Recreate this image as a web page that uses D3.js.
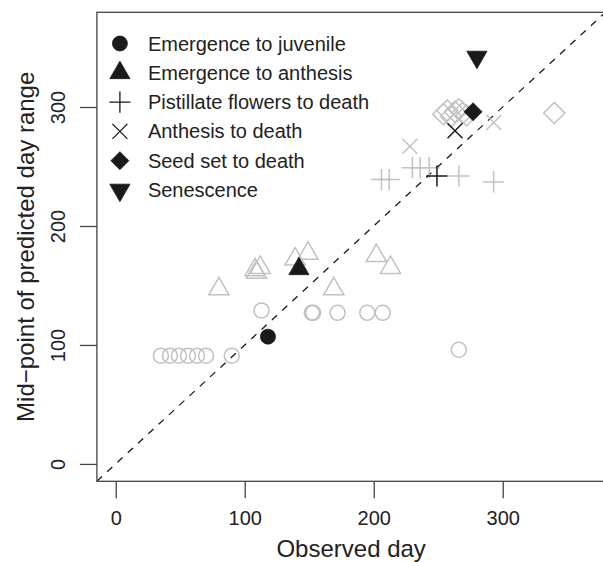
<!DOCTYPE html>
<meta charset="utf-8">
<script src="https://d3js.org/d3.v7.min.js"></script>
<style>
  body { margin: 0; background: #fff; }
  svg text { font-family: "Liberation Sans", Arial, sans-serif; fill: #222; }
</style>
<div id="my_dataviz"></div>
<script>

// Observed day vs mid-point of predicted day range
// grey = individual records, black = the one highlighted record per stage
var juvenileGrey = [[35,91],[42,91],[49,91],[56,91],[63,91],[70,91],[90,91],[113,129],
                    [152,127],[153,127],[172,127],[195,127],[207,127],[266,96]];
var juvenileBlack = [[118,107]];

var anthesisGrey = [[80,147],[108,163],[112,165],[109,161],[139,172],[149,177],[169,147],
                    [202,175],[213,165]];
var anthesisBlack = [[142,164]];

var pistillateGrey = [[206,239],[212,239],[230,249],[236,249],[243,249],[266,242],[293,237]];
var pistillateBlack = [[249,242]];

var anthDeathGrey = [[228,267],[293,287]];
var anthDeathBlack = [[263,280]];

var seedSetGrey = [[254,294],[257,297],[260,292],[263,296],[266,298],[269,295],[272,293],[340,295]];
var seedSetBlack = [[277,296]];

var senescenceBlack = [[280,342]];

var tickValues = [0, 100, 200, 300];
var legendLabels = ["Emergence to juvenile", "Emergence to anthesis", "Pistillate flowers to death",
                    "Anthesis to death", "Seed set to death", "Senescence"];

var margin = {top: 12.3, left: 96.9},
    width = 508.5,
    height = 469;

var svg = d3.select("#my_dataviz")
  .append("svg")
    .attr("width", 603)
    .attr("height", 562)
  .append("g")
    .attr("transform", "translate(" + margin.left + "," + margin.top + ")");

// both axes 0..365 with R's 4% padding
var lo = -14.6, hi = 379.6;
var x = d3.scaleLinear().domain([lo, hi]).range([0, width]);
var y = d3.scaleLinear().domain([lo, hi]).range([height, 0]);

var grey = "#c2c2c2", black = "#1a1a1a";
var R = 7.5;

// R-like plotting symbols as path strings, centred on 0,0
function sym(type) {
  var p = d3.path();
  if (type === "circle") {
    p.moveTo(R, 0); p.arc(0, 0, R, 0, 2 * Math.PI);
  } else if (type === "triUp" || type === "triDown") {
    var r = 1.5551 * R, xc = 1.3468 * R, yc = 0.7776 * R, s = type === "triUp" ? 1 : -1;
    p.moveTo(0, -s * r); p.lineTo(xc, s * yc); p.lineTo(-xc, s * yc); p.closePath();
  } else if (type === "plus") {
    var a = Math.SQRT2 * R;
    p.moveTo(-a, 0); p.lineTo(a, 0); p.moveTo(0, -a); p.lineTo(0, a);
  } else if (type === "cross") {
    p.moveTo(-R, -R); p.lineTo(R, R); p.moveTo(-R, R); p.lineTo(R, -R);
  } else if (type === "diamond") {
    var d = Math.SQRT2 * R;
    p.moveTo(0, -d); p.lineTo(d, 0); p.lineTo(0, d); p.lineTo(-d, 0); p.closePath();
  } else if (type === "diamondSmall") {
    var e = 1.2 * R;
    p.moveTo(0, -e); p.lineTo(e, 0); p.lineTo(0, e); p.lineTo(-e, 0); p.closePath();
  }
  return p.toString();
}

function drawPoints(data, type, colour, filled) {
  svg.append("g").selectAll("path")
    .data(data)
    .enter()
    .append("path")
      .attr("transform", function(d) { return "translate(" + x(d[0]) + "," + y(d[1]) + ")"; })
      .attr("d", sym(type))
      .style("fill", filled ? colour : "none")
      .style("stroke", colour)
      .style("stroke-width", filled ? 0.8 : 1.5);
}

// clip so the reference line stays inside the box
svg.append("clipPath").attr("id", "plotclip")
  .append("rect").attr("width", width).attr("height", height);

svg.append("path")
  .datum([lo, hi])
  .attr("clip-path", "url(#plotclip)")
  .attr("d", d3.line().x(function(d) { return x(d); }).y(function(d) { return y(d); }))
  .style("fill", "none")
  .style("stroke", black)
  .style("stroke-width", 1.3)
  .style("stroke-dasharray", "7,7");

// grey records first, black ones on top
drawPoints(juvenileGrey, "circle", grey, false);
drawPoints(anthesisGrey, "triUp", grey, false);
drawPoints(pistillateGrey, "plus", grey, false);
drawPoints(anthDeathGrey, "cross", grey, false);
drawPoints(seedSetGrey, "diamond", grey, false);

drawPoints(juvenileBlack, "circle", black, true);
drawPoints(anthesisBlack, "triUp", black, true);
drawPoints(pistillateBlack, "plus", black, false);
drawPoints(anthDeathBlack, "cross", black, false);
drawPoints(seedSetBlack, "diamondSmall", black, true);
drawPoints(senescenceBlack, "triDown", black, true);

// box
svg.append("rect")
  .attr("width", width)
  .attr("height", height)
  .style("fill", "none")
  .style("stroke", "#444")
  .style("stroke-width", 1.3);

// x axis
var xAxis = svg.append("g")
  .attr("transform", "translate(0," + height + ")")
  .call(d3.axisBottom(x).tickValues(tickValues).tickSize(17).tickPadding(13));
xAxis.select(".domain").remove();
xAxis.selectAll("line").style("stroke", "#444").style("stroke-width", 1.3);
xAxis.selectAll("text").style("font-size", "20px").style("fill", "#222")
  .style("font-family", "'Liberation Sans', Arial, sans-serif");

// y axis, labels turned like R's las = 0
var yAxis = svg.append("g")
  .call(d3.axisLeft(y).tickValues(tickValues).tickSize(17));
yAxis.select(".domain").remove();
yAxis.selectAll("line").style("stroke", "#444").style("stroke-width", 1.3);
yAxis.selectAll("text")
  .attr("x", null).attr("dy", null)
  .attr("transform", "translate(-32,0) rotate(-90)")
  .attr("text-anchor", "middle")
  .style("font-size", "20px").style("fill", "#222")
  .style("font-family", "'Liberation Sans', Arial, sans-serif");

// axis titles
svg.append("text")
  .attr("x", width / 2)
  .attr("y", height + 76)
  .attr("text-anchor", "middle")
  .style("font-size", "24px")
  .text("Observed day");

svg.append("text")
  .attr("transform", "translate(-63," + (height / 2) + ") rotate(-90)")
  .attr("text-anchor", "middle")
  .style("font-size", "24px")
  .text("Mid\u2212point of predicted day range");

// legend
var legendTypes = ["circle", "triUp", "plus", "cross", "diamondSmall", "triDown"];
var legendFilled = [true, true, false, false, true, true];
var legend = svg.append("g").attr("transform", "translate(23,31.2)");
legendLabels.forEach(function(label, i) {
  var row = legend.append("g").attr("transform", "translate(0," + (i * 29.3) + ")");
  row.append("path")
    .attr("d", sym(legendTypes[i]))
    .style("fill", legendFilled[i] ? black : "none")
    .style("stroke", black)
    .style("stroke-width", legendFilled[i] ? 0.8 : 1.3);
  row.append("text")
    .attr("x", 28)
    .attr("y", 7)
    .style("font-size", "20px")
    .text(label);
});

</script>
